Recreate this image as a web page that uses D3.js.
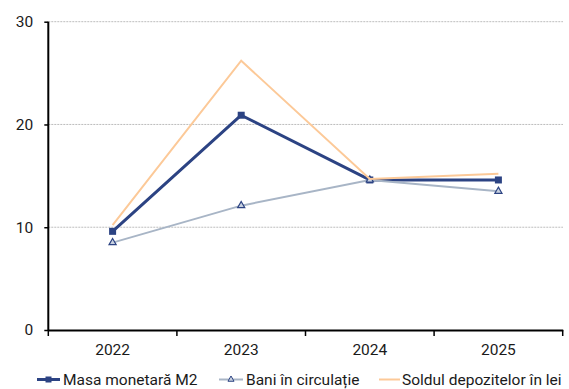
<!DOCTYPE html>
<html><head><meta charset="utf-8">
<script src="https://cdn.jsdelivr.net/npm/d3@7"></script>
<style>body{margin:0;background:#fff}svg{display:block}text{font-family:Roboto,sans-serif}</style>
</head><body>
<svg id="c" width="569" height="389"></svg>
<script>
const categories = ["2022","2023","2024","2025"];
const m2 = [9.6, 20.9, 14.6, 14.6];
const bani = [8.5, 12.1, 14.6, 13.5];
const soldul = [10.2, 26.2, 14.7, 15.2];
const yTicks = [0,10,20,30];
const seriesNames = ["Masa monetară M2","Bani în circulație","Soldul depozitelor în lei"];

const svg = d3.select("#c");
const fs = 15.5;
const x = d3.scaleBand().domain(categories).range([48.3, 562.7]);
const y = d3.scaleLinear().domain([0,30]).range([330, 21.7]);

// gridlines
svg.append("g").selectAll("line").data(yTicks.filter(d=>d>0)).join("line")
  .attr("x1",48.3).attr("x2",563).attr("y1",d=>y(d)).attr("y2",d=>y(d))
  .attr("stroke","#bdbdbd").attr("stroke-width",1).attr("stroke-dasharray","2,1");

// y axis
const ya = svg.append("g").attr("transform","translate(48.3,0)")
  .call(d3.axisLeft(y).tickValues(yTicks).tickSize(4).tickPadding(11));
ya.select(".domain").attr("stroke","#000").attr("stroke-width",2).attr("d","M0,"+y(0)+"V"+y(30));
ya.selectAll(".tick line").attr("stroke","#000").attr("stroke-width",1.5);
ya.selectAll("text").attr("font-size",fs).attr("fill","#1a1a1a").attr("font-family","Roboto");

// x axis
const xa = svg.append("g").attr("transform","translate(0,330)")
  .call(d3.axisBottom(x).tickSize(0).tickPadding(14));
xa.select(".domain").attr("stroke","#000").attr("stroke-width",2);
xa.selectAll("text").attr("font-size",fs).attr("fill","#1a1a1a").attr("font-family","Roboto");
const bounds = categories.map(c=>x(c)).concat([x(categories[categories.length-1])+x.bandwidth()]);
xa.append("g").selectAll("line").data(bounds).join("line")
  .attr("x1",d=>d).attr("x2",d=>d).attr("y1",0).attr("y2",6).attr("stroke","#000").attr("stroke-width",1.5);

const cx = c => x(c)+x.bandwidth()/2;
const line = d3.line().x((d,i)=>cx(categories[i])).y(d=>y(d));

const navy = "#2c4383", grey = "#a8b5c6", orange = "#fcc998";

svg.append("path").datum(m2).attr("d",line).attr("fill","none").attr("stroke",navy).attr("stroke-width",3).attr("stroke-linejoin","round");
svg.append("g").selectAll("rect").data(m2).join("rect")
  .attr("x",(d,i)=>cx(categories[i])-3.5).attr("y",d=>y(d)-3.5).attr("width",7).attr("height",7).attr("fill",navy);

svg.append("path").datum(bani).attr("d",line).attr("fill","none").attr("stroke",grey).attr("stroke-width",2);
const tri = d3.symbol().type(d3.symbolTriangle).size(22);
svg.append("g").selectAll("path").data(bani).join("path")
  .attr("d",tri).attr("transform",(d,i)=>`translate(${cx(categories[i])},${y(d)})`)
  .attr("fill","#c9d2e0").attr("stroke",navy).attr("stroke-width",1.2);

svg.append("path").datum(soldul).attr("d",line).attr("fill","none").attr("stroke",orange).attr("stroke-width",2);

// legend
const leg = svg.append("g");
const ly = 379.5, ty = 385;
const items = [
  {x1:37,x2:60,tx:63,color:navy,w:3,marker:"sq"},
  {x1:219,x2:243,tx:246,color:grey,w:2,marker:"tri"},
  {x1:379,x2:400,tx:402,color:orange,w:2,marker:null}
];
items.forEach((it,i)=>{
  leg.append("line").attr("x1",it.x1).attr("x2",it.x2).attr("y1",ly).attr("y2",ly).attr("stroke",it.color).attr("stroke-width",it.w);
  const mx=(it.x1+it.x2)/2;
  if(it.marker==="sq") leg.append("rect").attr("x",mx-3).attr("y",ly-3).attr("width",6).attr("height",6).attr("fill",navy);
  if(it.marker==="tri") leg.append("path").attr("d",d3.symbol().type(d3.symbolTriangle).size(16)).attr("transform",`translate(${mx},${ly})`).attr("fill","#c9d2e0").attr("stroke",navy).attr("stroke-width",1);
  leg.append("text").attr("x",it.tx).attr("y",ty).attr("font-size",fs).attr("fill","#1a1a1a").text(seriesNames[i]);
});
</script>
</body></html>
